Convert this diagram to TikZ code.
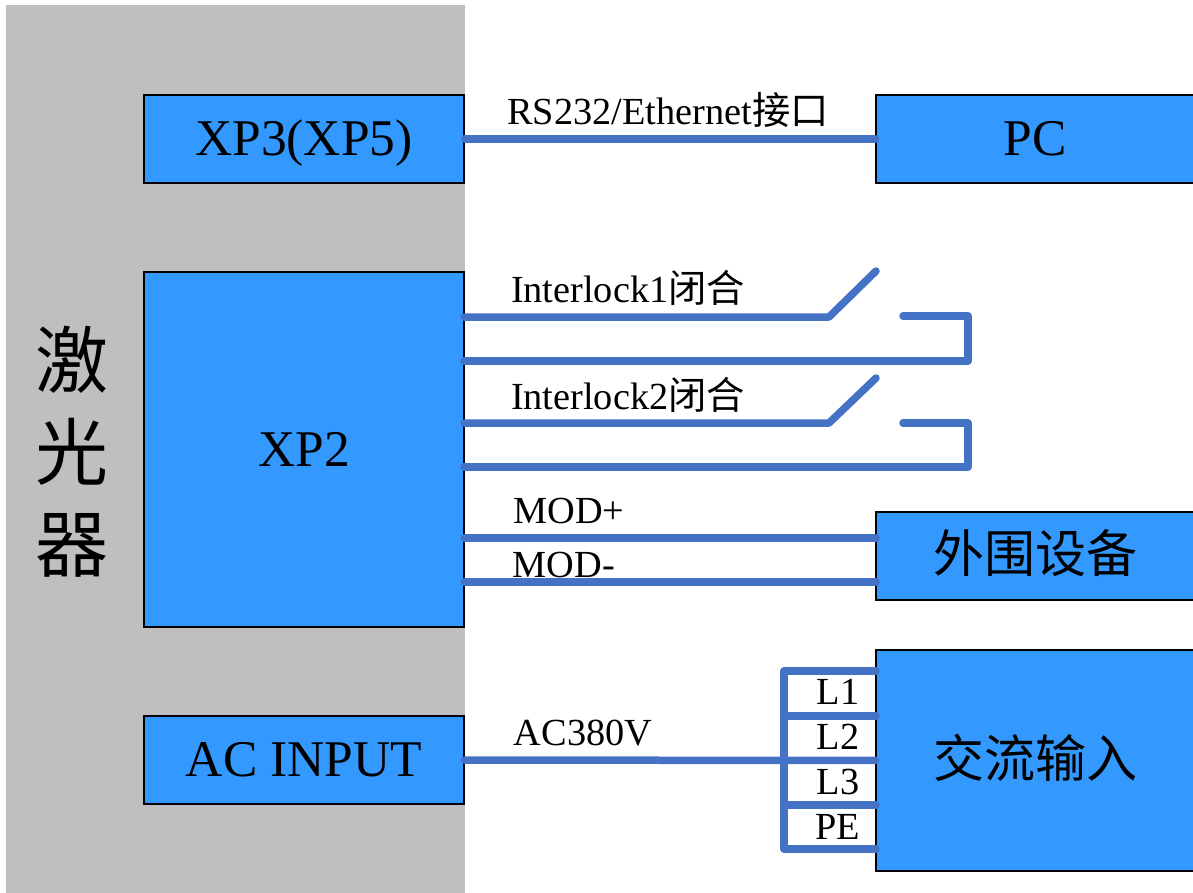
\documentclass[tikz,border=0pt]{standalone}
\usepackage{fontspec}
\setmainfont{Liberation Serif}
\newfontfamily\cjk{Noto Sans CJK SC}
\definecolor{wireblue}{HTML}{4472C4}
\definecolor{boxblue}{HTML}{3399FF}
\definecolor{lasergray}{HTML}{BFBFBF}
\tikzset{
  unit/.style={rectangle, draw=black, line width=1.2pt, fill=boxblue, inner sep=0pt, text height=33pt, text depth=0pt, font=\fontsize{51.5}{60}\selectfont},
  wire/.style={draw=wireblue, line width=7.5pt, line cap=round, line join=round},
  tag/.style={inner sep=0pt, font=\fontsize{38.3}{44}\selectfont}
}
\begin{document}
\begin{tikzpicture}[x=1pt, y=-1pt]
            \useasboundingbox (0,0) rectangle (1193,893);
            % Define laser body
            \node[rectangle, fill=lasergray, inner sep=0pt, minimum width=459pt, minimum height=888pt] (laser) at (235.5,449) {};
            \node[inner sep=0pt, align=center, font=\fontsize{73}{92}\selectfont\cjk] (lasername) at (71.5,452) {激\\光\\器};

            % Define units
            \node[unit, minimum width=320pt, minimum height=88pt] (xpa) at (304,139) {XP3(XP5)};
            \node[unit, minimum width=320pt, minimum height=355pt] (xpb) at (304,449.5) {XP2};
            \node[unit, minimum width=320pt, minimum height=88pt] (acport) at (304,760) {AC INPUT};
            \node[unit, minimum width=318pt, minimum height=88pt] (pc) at (1035,139) {PC};
            \node[unit, minimum width=318pt, minimum height=88pt, font=\fontsize{51}{60}\selectfont\cjk] (periph) at (1035,556) {外围设备};
            \node[unit, minimum width=318pt, minimum height=221pt, font=\fontsize{51}{60}\selectfont\cjk] (acin) at (1035,760.5) {交流输入};

            % Define wire ends
            \coordinate (lockaa) at (464,317);
            \coordinate (lockab) at (829,317);
            \coordinate (lockac) at (876,271);
            \coordinate (lockad) at (903,316);
            \coordinate (lockae) at (968,316);
            \coordinate (lockaf) at (968,361);
            \coordinate (lockag) at (464,361);
            \coordinate (lockba) at (464,423);
            \coordinate (lockbb) at (829,423);
            \coordinate (lockbc) at (876,378);
            \coordinate (lockbd) at (903,423);
            \coordinate (lockbe) at (968,423);
            \coordinate (lockbf) at (968,467);
            \coordinate (lockbg) at (464,467);
            \coordinate (modpa) at (464,538);
            \coordinate (modpb) at (876,538);
            \coordinate (modna) at (464,582);
            \coordinate (modnb) at (876,582);
            \coordinate (busa) at (784,671);
            \coordinate (busb) at (784,716);
            \coordinate (busc) at (784,760);
            \coordinate (busd) at (784,805);
            \coordinate (buse) at (784,849);
            \coordinate (phasea) at (876,671);
            \coordinate (phaseb) at (876,716);
            \coordinate (phasec) at (876,805);
            \coordinate (phased) at (876,849);

            % Draw wires
            \draw[wire] (xpa) -- (pc);
            \draw[wire] (lockaa) -- (lockab) -- (lockac);
            \draw[wire] (lockad) -- (lockae) -- (lockaf) -- (lockag);
            \draw[wire] (lockba) -- (lockbb) -- (lockbc);
            \draw[wire] (lockbd) -- (lockbe) -- (lockbf) -- (lockbg);
            \draw[wire] (modpa) -- (modpb);
            \draw[wire] (modna) -- (modnb);
            \draw[wire] (acport) -- (acin);
            \draw[wire] (phasea) -- (busa) -- (buse) -- (phased);
            \draw[wire] (busb) -- (phaseb);
            \draw[wire] (busd) -- (phasec);

            % Define wire labels
            \node[tag] (rslabel) at (668,110) {RS232/Ethernet{\cjk 接口}};
            \node[tag] (lockalabel) at (628,288) {Interlock1{\cjk 闭合}};
            \node[tag] (lockblabel) at (628,395) {Interlock2{\cjk 闭合}};
            \node[tag] (modplabel) at (569,511) {MOD+};
            \node[tag] (modnlabel) at (564,565) {MOD-};
            \node[tag] (aclabel) at (583,733) {AC380V};
            \node[tag] (lonelabel) at (838,692) {L1};
            \node[tag] (ltwolabel) at (838,737) {L2};
            \node[tag] (lthreelabel) at (838,782) {L3};
            \node[tag] (pelabel) at (838,827) {PE};
        \end{tikzpicture}
\end{document}
